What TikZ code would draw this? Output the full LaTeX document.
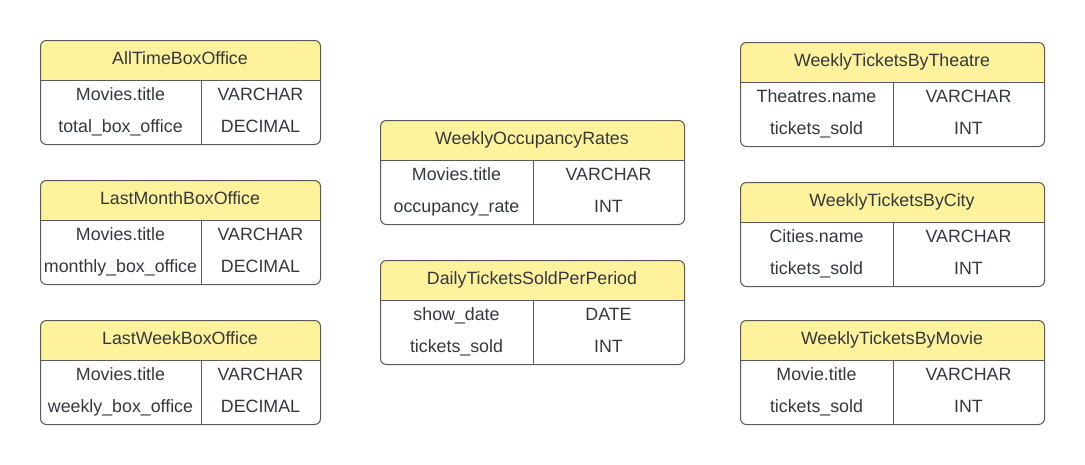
\documentclass[tikz,border=0pt]{standalone}
\usepackage{fontspec}
\setmainfont{Liberation Sans}
\definecolor{hdr}{RGB}{255,242,156}
\definecolor{txt}{RGB}{51,56,64}
\definecolor{edge}{RGB}{90,90,90}
\tikzset{
  tbox/.style={draw=edge, line width=1pt, rounded corners=6pt, inner sep=0pt},
  tline/.style={draw=edge, line width=1pt},
  ttext/.style={text=txt, font=\fontsize{17.8}{20}\selectfont, inner sep=0pt, anchor=base},
}
\newcommand\dbtable[8]{%
  \begin{scope}[shift={(#2,#3)}]
    \fill[hdr, rounded corners=6pt] (0,0) rectangle (\tw,20);
    \fill[hdr] (0,12) rectangle (\tw,40);
    \node[tbox, minimum width=\tw pt, minimum height=104pt, anchor=north west] (#1) at (0,0) {};
    \draw[tline] (0,40) -- (\tw,40);
    \draw[tline] (\td,40) -- (\td,104);
    \node[ttext] (#1-t) at (\tw/2,24.5) {#4};
    \node[ttext] (#1-f1) at (\td/2,60.5) {#5};
    \node[ttext] (#1-y1) at ({(\td+\tw)/2},60.5) {#6};
    \node[ttext] (#1-f2) at (\td/2,92.5) {#7};
    \node[ttext] (#1-y2) at ({(\td+\tw)/2},92.5) {#8};
  \end{scope}}
\begin{document}
\begin{tikzpicture}[x=1pt,y=-1pt]
\useasboundingbox (0,0) rectangle (1085,464);
\def\tw{280}\def\td{161}
\dbtable{atb}{40}{40}{AllTimeBoxOffice}{Movies.title}{VARCHAR}{total\_box\_office}{DECIMAL}
\dbtable{lmb}{40}{180}{LastMonthBoxOffice}{Movies.title}{VARCHAR}{monthly\_box\_office}{DECIMAL}
\dbtable{lwb}{40}{320}{LastWeekBoxOffice}{Movies.title}{VARCHAR}{weekly\_box\_office}{DECIMAL}
\def\tw{304}\def\td{153}
\dbtable{wor}{380}{120}{WeeklyOccupancyRates}{Movies.title}{VARCHAR}{occupancy\_rate}{INT}
\dbtable{dts}{380}{260}{DailyTicketsSoldPerPeriod}{show\_date}{DATE}{tickets\_sold}{INT}
\dbtable{wtt}{740}{42}{WeeklyTicketsByTheatre}{Theatres.name}{VARCHAR}{tickets\_sold}{INT}
\dbtable{wtc}{740}{182}{WeeklyTicketsByCity}{Cities.name}{VARCHAR}{tickets\_sold}{INT}
\dbtable{wtm}{740}{320}{WeeklyTicketsByMovie}{Movie.title}{VARCHAR}{tickets\_sold}{INT}
\end{tikzpicture}
\end{document}
